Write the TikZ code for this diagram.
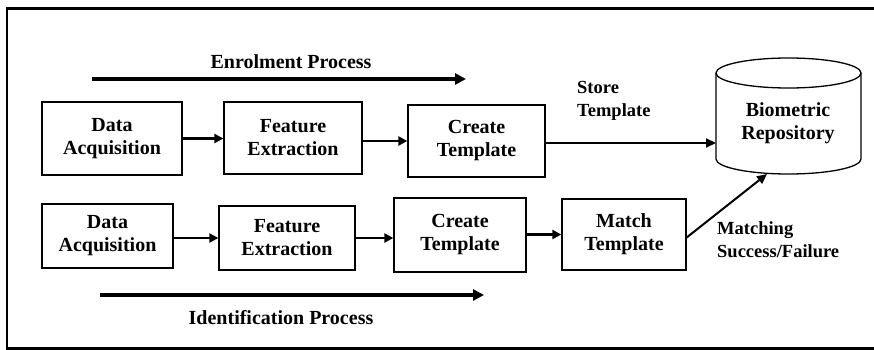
\documentclass[tikz,border=0pt]{standalone}
\usepackage{fontspec}
\setmainfont{Liberation Serif}
\usetikzlibrary{arrows.meta}
\begin{document}
\begin{tikzpicture}[x=1pt,y=-1pt,
  box/.style={draw,line width=1.3pt,align=center,font=\fontsize{20}{23}\selectfont\bfseries,inner sep=0pt},
  arr/.style={line width=2.5pt,-{Triangle[length=9pt,width=9pt]}},
  thinarr/.style={line width=2pt,-{Triangle[length=10pt,width=9pt]}},
  proc/.style={line width=3.2pt,-{Triangle[length=11pt,width=11pt]}},
  lbl/.style={font=\fontsize{20}{23}\selectfont\bfseries,inner sep=0pt},
  rlbl/.style={font=\fontsize{18.5}{23}\selectfont\bfseries,align=left,inner sep=0pt}]
\useasboundingbox (0,0) rectangle (874,350);
% frame
\draw[line width=2.8pt] (874,8.5) -- (7,8.5) -- (7,348.5) -- (874,348.5);

% enrolment
\node[lbl] (enl) at (291,62) {Enrolment Process};
\coordinate (ens) at (92,79);
\coordinate (ene) at (466,79);
\draw[proc] (ens) -- (ene);

\node[box,minimum width=140pt,minimum height=73pt] (da1) at (112,138.5) {Data\\Acquisition};
\node[box,minimum width=138pt,minimum height=72pt] (fe1) at (293,138) {Feature\\Extraction};
\node[box,minimum width=137pt,minimum height=72pt] (ct1) at (476.5,141) {Create\\Template};
\draw[arr] (da1.east) -- (da1.east -| fe1.west);
\draw[arr] (fe1.east |- ct1.west) -- (ct1.west);

% cylinder
\draw[line width=1.3pt,fill=white] (716,73) -- (716,159) arc[start angle=180,end angle=360,x radius=72.5pt,y radius=15pt] -- (861,73);
\draw[line width=1.3pt] (788.5,73) ellipse[x radius=72.5pt,y radius=15pt];
\node[lbl,align=center] (repo) at (788,123) {Biometric\\Repository};
\coordinate (cylL) at (716,139);
\coordinate (cylB) at (767,174);

\draw[thinarr] ([yshift=-2pt]ct1.east) -- ([yshift=-2pt]ct1.east -| cylL);
\node[rlbl,anchor=west] (st) at (577,101) {Store\\Template};

% identification
\node[box,minimum width=131pt,minimum height=64pt] (da2) at (107.5,236) {Data\\Acquisition};
\node[box,minimum width=136pt,minimum height=64pt] (fe2) at (287,238) {Feature\\Extraction};
\node[box,minimum width=132pt,minimum height=74pt] (ct2) at (460,235) {Create\\Template};
\node[box,minimum width=124pt,minimum height=71pt] (mt2) at (624,234.5) {Match\\Template};
\draw[arr] (da2.east |- fe2.west) -- (fe2.west);
\draw[arr] (fe2.east) -- (fe2.east -| ct2.west);
\draw[arr] (ct2.east |- mt2.west) -- (mt2.west);
\draw[thinarr] ([yshift=-3pt]mt2.east) -- (cylB);
\node[rlbl,anchor=west] (ms) at (717,240) {Matching\\Success/Failure};

\coordinate (ids) at (100,295);
\coordinate (ide) at (484,295);
\draw[proc] (ids) -- (ide);
\node[lbl] (idl) at (281,318) {Identification Process};
\end{tikzpicture}
\end{document}
